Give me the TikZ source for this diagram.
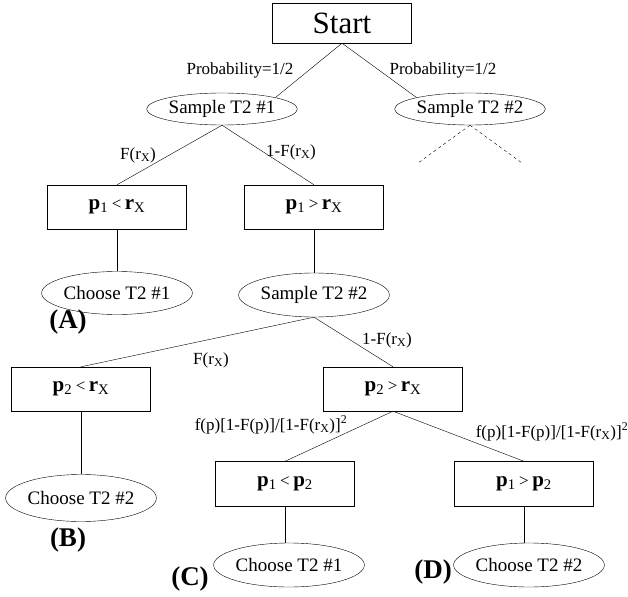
\documentclass[tikz,border=0pt]{standalone}
\usepackage{fontspec}
\setmainfont{Liberation Serif}
\usetikzlibrary{positioning,shapes.geometric}
\tikzstyle{block} = [draw, minimum width=139pt, minimum height=44pt, inner sep=0pt, font=\fontsize{21}{23}\selectfont]
\tikzstyle{oval} = [draw, ellipse, minimum width=138pt, minimum height=44pt, inner sep=0pt, font=\fontsize{19}{21}\selectfont]
\tikzstyle{prob} = [inner sep=0pt, font=\fontsize{17}{19}\selectfont]
\tikzstyle{tag} = [inner sep=0pt, font=\fontsize{27}{29}\selectfont\bfseries]
\newcommand{\bp}[1]{\textbf{p}\textsubscript{#1}}
\newcommand{\brx}{\textbf{r}\textsubscript{X}}
\newcommand{\Frx}{F(r\textsubscript{X})}
\newcommand{\dens}{f(p)[1-F(p)]/[1-\Frx]\textsuperscript{2}}
\newcommand{\rel}[1]{\,{\fontsize{17}{19}\selectfont#1}\,}

\begin{document}
\begin{tikzpicture}[x=1pt, y=-1pt]
        \useasboundingbox (0,0) rectangle (628,596);
        %Nodes
        \node [block, minimum height=40pt, font=\fontsize{31}{33}\selectfont] (start) at (342,23) {Start};
        \node [oval, minimum height=32pt] (sample1) at (222,109) {Sample T2 \#1};
        \node [oval, minimum height=32pt, minimum width=134pt] (sample2) at (470,109) {Sample T2 \#2};
        \node [block] (lessA) at (117,207) {\bp{1}\rel{<}\brx};
        \node [block] (moreA) at (314,207) {\bp{1}\rel{>}\brx};
        \node [oval, minimum width=139pt, minimum height=43pt] (chooseA) at (117,293) {Choose T2 \#1};
        \node [oval, minimum width=140pt] (sample3) at (314,295) {Sample T2 \#2};
        \node [block] (lessB) at (81,389) {\bp{2}\rel{<}\brx};
        \node [block] (moreB) at (393,389) {\bp{2}\rel{>}\brx};
        \node [oval, minimum height=47pt] (chooseB) at (81,498) {Choose T2 \#2};
        \node [block, minimum height=45pt] (lessC) at (285,484) {\bp{1}\rel{<}\bp{2}};
        \node [block, minimum height=45pt] (moreC) at (524,484) {\bp{1}\rel{>}\bp{2}};
        \node [oval, minimum width=135pt] (chooseC) at (289,565) {Choose T2 \#1};
        \node [oval, minimum width=134pt] (chooseD) at (529,565) {Choose T2 \#2};
        \coordinate (dashL) at (418,163);
        \coordinate (dashR) at (522,163);
        %Labels
        \node [prob] (probL) at (240,70) {Probability=1/2};
        \node [prob] (probR) at (443,70) {Probability=1/2};
        \node [prob] (pA) at (138,155) {\Frx};
        \node [prob] (qA) at (291,152) {1-\Frx};
        \node [prob] (pB) at (211,360) {\Frx};
        \node [prob] (qB) at (387,340) {1-\Frx};
        \node [prob] (pC) at (271,425) {\dens};
        \node [prob] (qC) at (552,432) {\dens};
        \node [tag] (tagA) at (68,322) {(A)};
        \node [tag] (tagB) at (68,540) {(B)};
        \node [tag] (tagC) at (190,579) {(C)};
        \node [tag] (tagD) at (433,572) {(D)};
        %Lines
        \draw (start.south) -- (sample1.north east);
        \draw (start.south) -- (sample2.north west);
        \draw[dashed] (sample2.south) -- (dashL)
            (sample2.south) -- (dashR);
        \draw (sample1.south) -- (lessA.north);
        \draw (sample1.south) -- (moreA.north);
        \draw (lessA.south) -- (chooseA.north);
        \draw (moreA.south) -- (sample3.north);
        \draw (sample3.south) -- (lessB.north);
        \draw (sample3.south) -- (moreB.north);
        \draw (lessB.south) -- (chooseB.north);
        \draw (moreB.south) -- (lessC.north);
        \draw (moreB.south) -- (moreC.north);
        \draw (lessC.south) -- (lessC.south |- chooseC.north);
        \draw (moreC.south) -- (moreC.south |- chooseD.north);
    \end{tikzpicture}
\end{document}
